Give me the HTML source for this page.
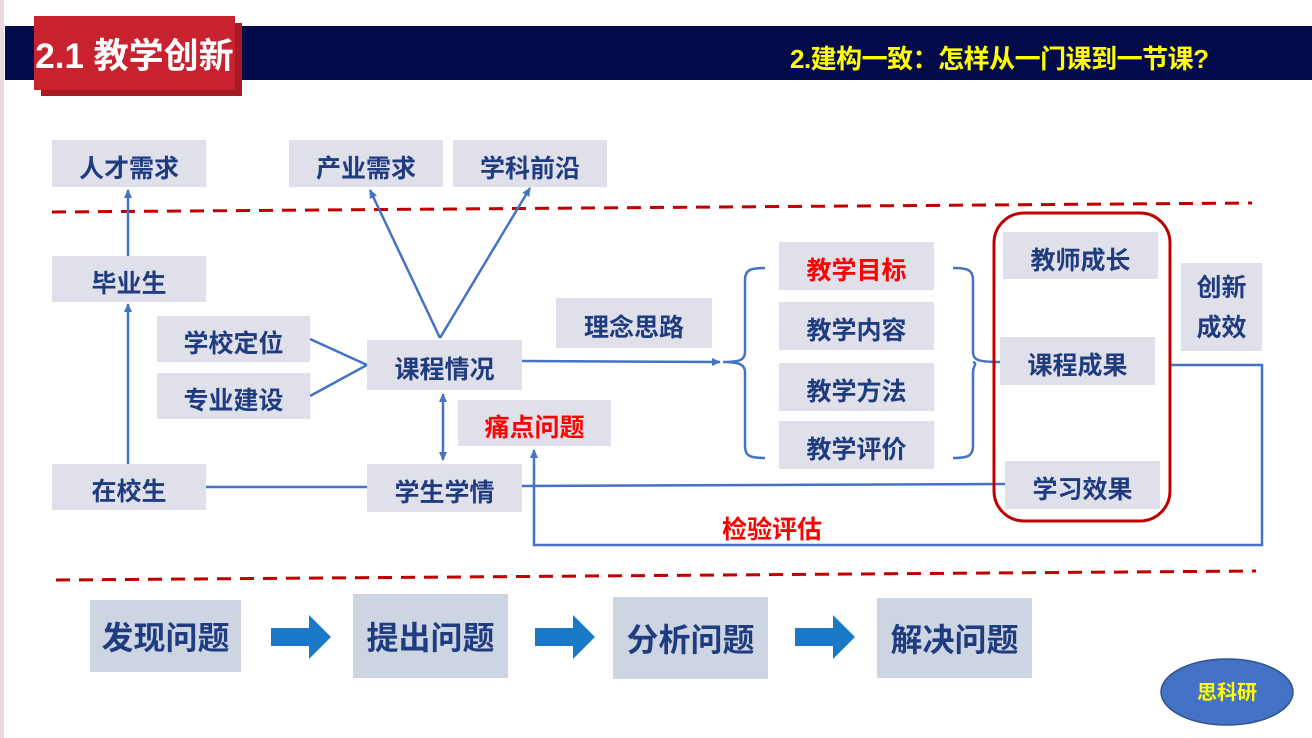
<!DOCTYPE html><html><head><meta charset="utf-8"><style>
body{margin:0;width:1312px;height:738px;position:relative;background:#fff;overflow:hidden;font-family:"Liberation Sans","Noto Sans CJK SC",sans-serif}
.b{position:absolute;background:#dfe0ea;color:#203c80;font-weight:bold;font-size:25px;display:flex;align-items:center;justify-content:center;box-sizing:border-box;padding-top:6px}
.r{color:#f00}
.q{position:absolute;background:#ccd5e1;color:#203c80;font-weight:bold;font-size:32px;display:flex;align-items:center;justify-content:center}
</style></head><body>
<div style="position:absolute;left:0;top:0;width:4px;height:738px;background:#ead9e4"></div>
<div style="position:absolute;left:5px;top:26px;width:1307px;height:54px;background:#030b4b"></div>
<div style="position:absolute;left:41px;top:23px;width:201px;height:73px;background:#a51c24"></div>
<div style="position:absolute;left:34px;top:16px;width:201px;height:74px;background:#c8222e;color:#fff;font-weight:bold;font-size:35px;display:flex;align-items:center;justify-content:center">2.1 教学创新</div>
<div style="position:absolute;left:790px;top:39px;color:#ffff00;font-weight:bold;font-size:26px;letter-spacing:-0.5px">2.建构一致：怎样从一门课到一节课?</div>
<svg style="position:absolute;left:0;top:0" width="1312" height="738">
<defs><marker id="a" markerWidth="10" markerHeight="10" refX="8" refY="5" orient="auto" markerUnits="userSpaceOnUse"><path d="M0,1 L9,5 L0,9 z" fill="#4472c4"/></marker>
<marker id="s" markerWidth="10" markerHeight="10" refX="2" refY="5" orient="auto" markerUnits="userSpaceOnUse"><path d="M10,1 L1,5 L10,9 z" fill="#4472c4"/></marker></defs>
<g stroke="#c00000" stroke-width="3" stroke-dasharray="14,9"><line x1="52" y1="212" x2="1252" y2="203"/><line x1="56" y1="580" x2="1256" y2="571"/></g>
<g stroke="#4472c4" stroke-width="2.5" fill="none">
<line x1="128" y1="464" x2="128" y2="304" marker-end="url(#a)"/>
<line x1="128" y1="256" x2="128" y2="190" marker-end="url(#a)"/>
<line x1="206" y1="487" x2="367" y2="487"/>
<polyline points="310,339 367,365 310,396"/>
<line x1="440" y1="338" x2="370" y2="190" marker-end="url(#a)"/>
<line x1="440" y1="338" x2="530" y2="188" marker-end="url(#a)"/>
<line x1="443" y1="394" x2="443" y2="460" marker-start="url(#s)" marker-end="url(#a)"/>
<line x1="522" y1="361" x2="720" y2="362" marker-end="url(#a)"/>
<path d="M765,268 C750,268 745,270 745,280 L745,352 C745,360 740,362 723,362 C740,362 745,365 745,372 L745,446 C745,456 750,458 765,458"/>
<path d="M953,268 C968,268 973,270 973,280 L973,352 C973,360 978,362 1000,362 M973,362 C978,364 973,365 973,372 L973,446 C973,456 968,458 953,458"/>
<line x1="522" y1="486" x2="1005" y2="484"/>
<polyline points="1170,365 1262,365 1262,545 534,545 534,450" marker-end="url(#a)"/>
</g>
<rect x="994" y="213" width="176" height="308" rx="30" fill="none" stroke="#c00000" stroke-width="3"/>
<g fill="#1a78c8"><path d="M271,628 h38 v-13 l22,22 l-22,22 v-13 h-38z"/><path d="M535,628 h38 v-13 l22,22 l-22,22 v-13 h-38z"/><path d="M795,628 h38 v-13 l22,22 l-22,22 v-13 h-38z"/></g>
<ellipse cx="1227" cy="692" rx="66" ry="33" fill="#4472c4" stroke="#2f528f" stroke-width="1.5"/>
<text x="1227" y="699" text-anchor="middle" fill="#ffff00" font-weight="bold" font-size="20" font-family="Liberation Sans,Noto Sans CJK SC,sans-serif">思科研</text>
</svg>
<div class="b" style="left:52px;top:140px;width:154px;height:47px">人才需求</div>
<div class="b" style="left:289px;top:140px;width:154px;height:47px">产业需求</div>
<div class="b" style="left:453px;top:140px;width:154px;height:47px">学科前沿</div>
<div class="b" style="left:52px;top:256px;width:154px;height:46px">毕业生</div>
<div class="b" style="left:157px;top:316px;width:153px;height:46px">学校定位</div>
<div class="b" style="left:157px;top:373px;width:153px;height:46px">专业建设</div>
<div class="b" style="left:367px;top:340px;width:155px;height:50px">课程情况</div>
<div class="b" style="left:556px;top:298px;width:156px;height:50px">理念思路</div>
<div class="b r" style="left:458px;top:400px;width:153px;height:46px">痛点问题</div>
<div class="b" style="left:52px;top:464px;width:154px;height:46px">在校生</div>
<div class="b" style="left:367px;top:464px;width:155px;height:48px">学生学情</div>
<div class="b r" style="left:779px;top:242px;width:155px;height:48px">教学目标</div>
<div class="b" style="left:779px;top:302px;width:155px;height:48px">教学内容</div>
<div class="b" style="left:779px;top:363px;width:155px;height:48px">教学方法</div>
<div class="b" style="left:779px;top:421px;width:155px;height:48px">教学评价</div>
<div class="b" style="left:1003px;top:232px;width:155px;height:47px">教师成长</div>
<div class="b" style="left:1000px;top:337px;width:155px;height:48px">课程成果</div>
<div class="b" style="left:1005px;top:461px;width:155px;height:48px">学习效果</div>
<div class="b" style="left:1181px;top:263px;width:81px;height:88px;line-height:40px;text-align:center;padding-top:2px">创新<br>成效</div>
<div style="position:absolute;left:722px;top:510px;color:#f00;font-weight:bold;font-size:25px">检验评估</div>
<div class="q" style="left:90px;top:600px;width:151px;height:72px">发现问题</div>
<div class="q" style="left:353px;top:594px;width:155px;height:84px">提出问题</div>
<div class="q" style="left:613px;top:597px;width:155px;height:82px">分析问题</div>
<div class="q" style="left:877px;top:598px;width:155px;height:80px">解决问题</div>
</body></html>
